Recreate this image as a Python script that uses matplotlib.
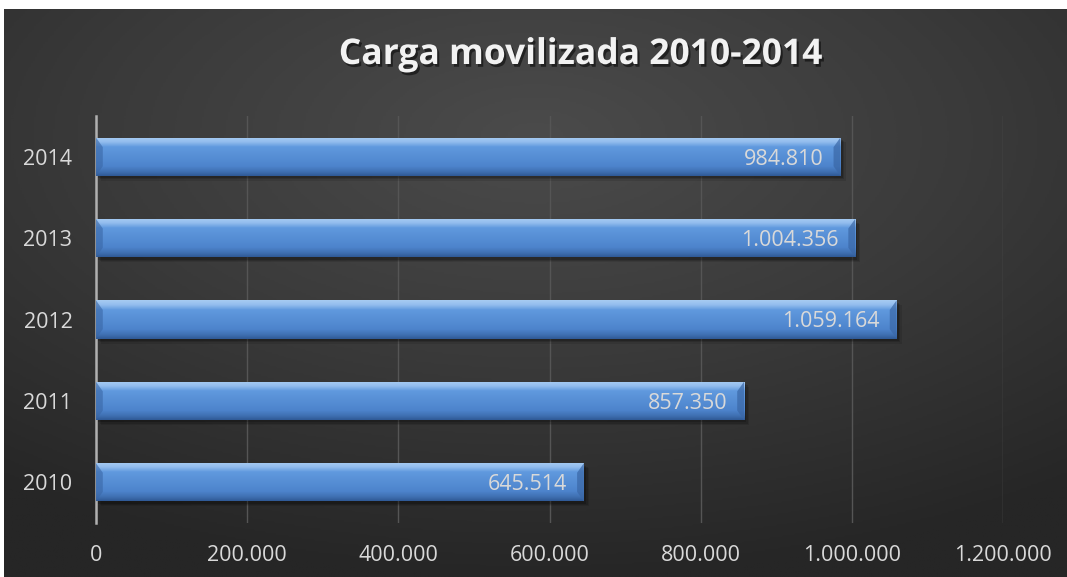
import matplotlib as mpl
mpl.use('Agg')
import matplotlib.pyplot as plt
import matplotlib.patheffects as pe
import numpy as np

years = ['2010', '2011', '2012', '2013', '2014']
carga = [645514, 857350, 1059164, 1004356, 984810]
xticks = [0, 200000, 400000, 600000, 800000, 1000000, 1200000]
title = 'Carga movilizada 2010-2014'

TXT = '#d9d9d9'
FONT = ['Open Sans', 'DejaVu Sans']


def fmt(v):
  return '{:,}'.format(int(v)).replace(',', '.')


fig = plt.figure(figsize=(10.67, 5.77), dpi=100)
fig.patch.set_facecolor('white')

# dark radial background
bg = fig.add_axes([4 / 1067, 0, 1 - 4 / 1067, 568 / 577])
yy, xx = np.mgrid[-1:1:300j, -1:1:500j]
r = np.sqrt((xx * 0.85) ** 2 + ((yy + 0.55) * 0.9) ** 2)
bg.imshow(np.clip(r, 0, 1.4), cmap=mpl.colors.LinearSegmentedColormap.from_list(
  'bg', ['#4b4b4b', '#3a3a3a', '#262626']), aspect='auto', extent=[0, 1, 0, 1])
bg.set_axis_off()

ax = fig.add_axes([96 / 1067, 1 - 523 / 577, 907 / 1067, 407 / 577])
ax.set_facecolor('none')
ax.set_xlim(0, 1200000)
ax.set_ylim(-0.5, 4.5)

h = 0.47
ypos = np.arange(len(years))

# soft shadows under the bars
for k, a in enumerate([0.18, 0.14, 0.10]):
  ax.barh(ypos - 0.03 - 0.015 * k, carga, height=h, left=3000 + 2000 * k,
          color='black', alpha=a, zorder=2, lw=0)

bars = ax.barh(ypos, carga, height=h, color='#4f81bd', zorder=3)

grad = np.linspace(0, 1, 100).reshape(-1, 1)
bar_cmap = mpl.colors.LinearSegmentedColormap.from_list(
  'bar', [(0, '#a7cbf2'), (0.12, '#93bdee'), (0.25, '#6099de'),
          (0.75, '#4d84cc'), (0.9, '#3f6fb1'), (1, '#2f5a96')])
for b in bars:
  x0, y0 = b.get_x(), b.get_y()
  w, hh = b.get_width(), b.get_height()
  im = ax.imshow(grad, cmap=bar_cmap, aspect='auto', zorder=4,
                 extent=[x0, x0 + w, y0, y0 + hh], origin='upper')
  im.set_clip_path(b)
  # bevel ends
  bev = 9000
  ax.fill([x0, x0 + bev, x0 + bev, x0], [y0 + hh, y0 + hh * 0.75, y0 + hh * 0.25, y0],
          color='#3a67a6', alpha=0.6, zorder=5, lw=0)
  ax.fill([x0 + w, x0 + w - bev, x0 + w - bev, x0 + w],
          [y0 + hh, y0 + hh * 0.75, y0 + hh * 0.25, y0],
          color='#3a67a6', alpha=0.7, zorder=5, lw=0)
  ax.text(x0 + w - 22000, y0 + hh / 2 - 0.03, fmt(w), ha='right', va='center',
          color=TXT, fontsize=15.5, family=FONT, zorder=6)

ax.set_xticks(xticks)
ax.set_xticklabels([fmt(t) for t in xticks])
ax.set_yticks(ypos)
ax.set_yticklabels(years)
ax.tick_params(axis='both', length=0, colors=TXT, labelsize=15.5)
ax.tick_params(axis='x', pad=16)
ax.tick_params(axis='y', pad=17)
for lab in ax.get_xticklabels() + ax.get_yticklabels():
  lab.set_family(FONT)

ax.grid(axis='x', color='#555555', linewidth=1, zorder=0)
ax.set_axisbelow(True)
for s in ['top', 'right', 'bottom']:
  ax.spines[s].set_visible(False)
ax.spines['left'].set_color('#b0b0b0')
ax.spines['left'].set_linewidth(1.8)

fig.text(580 / 1067, 1 - 55 / 577, title, ha='center', va='center', color='#f2f2f2',
         fontsize=25.5, fontweight='bold', family=FONT,
         path_effects=[pe.withSimplePatchShadow(offset=(1.5, -2), shadow_rgbFace='black', alpha=0.5)])

plt.savefig('out.png', dpi=100)
plt.close()
